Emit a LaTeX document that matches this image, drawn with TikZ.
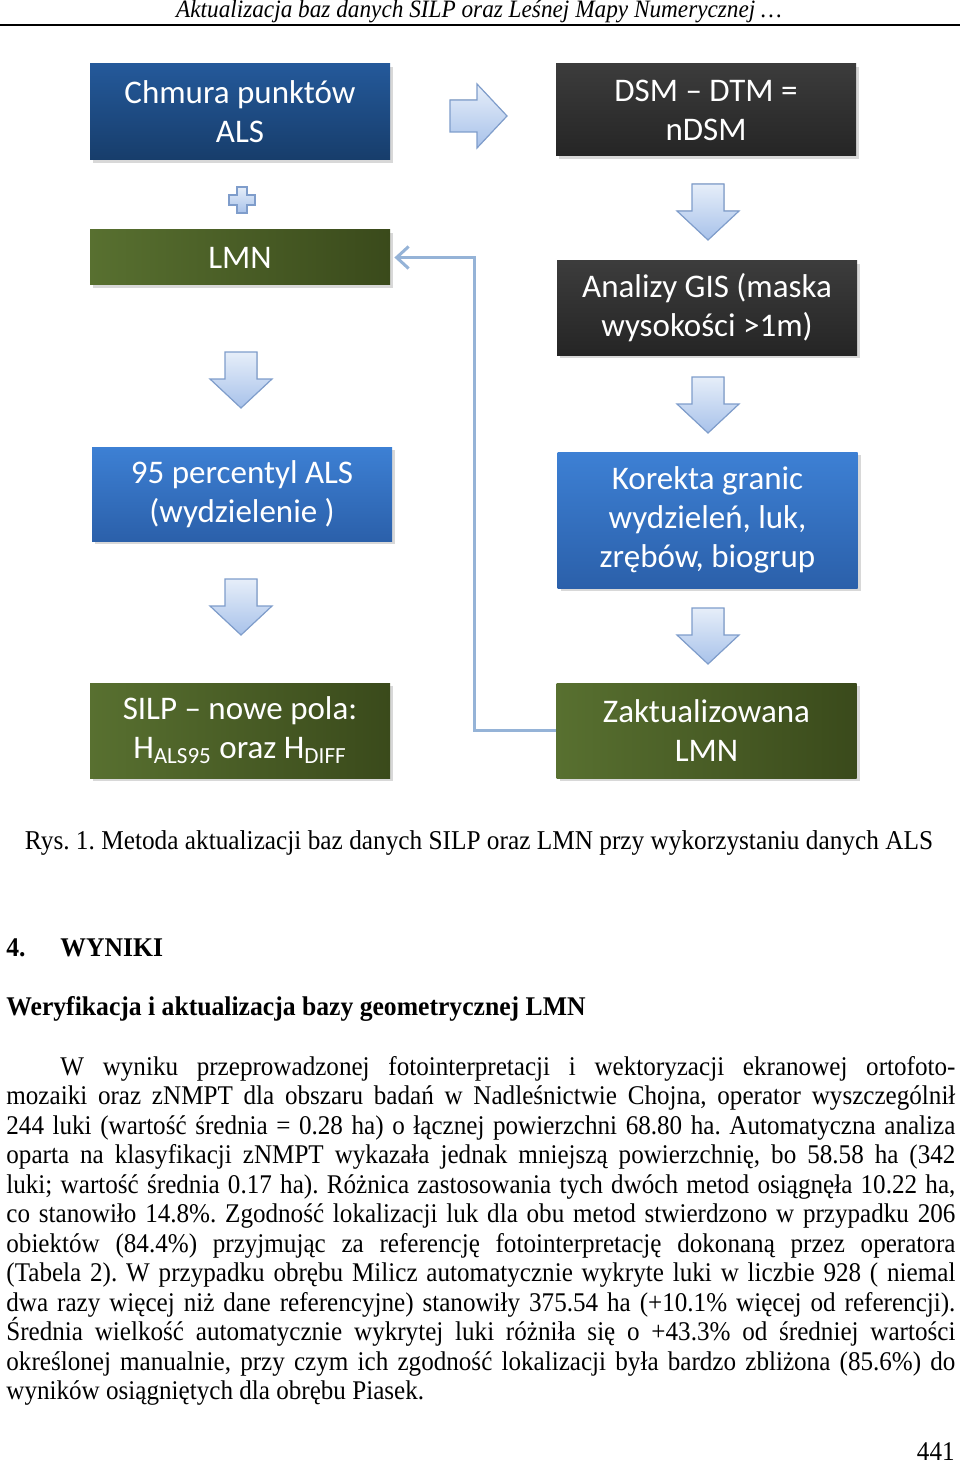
\documentclass[tikz,border=0pt]{standalone}
\usepackage{fontspec}
\setmainfont{Liberation Serif}[FakeStretch=0.93]
\newfontfamily\headfont{Liberation Serif}[FakeStretch=0.95]
\newfontfamily\boxfont{Carlito}
\usetikzlibrary{shadows,arrows.meta}
\frenchspacing

\definecolor{blueDark}{HTML}{24599A}
\definecolor{blueDarkB}{HTML}{173D6B}
\definecolor{blueMid}{HTML}{3D80D4}
\definecolor{blueMidB}{HTML}{2B60AA}
\definecolor{oliveL}{HTML}{587030}
\definecolor{oliveR}{HTML}{3A4A1B}
\definecolor{greyT}{HTML}{3C3C3C}
\definecolor{greyB}{HTML}{252525}
\definecolor{arrTop}{HTML}{E6EEF9}
\definecolor{arrBot}{HTML}{A8C2EA}
\definecolor{arrEdge}{HTML}{7F9DCB}
\definecolor{connLine}{HTML}{95B3D7}

\tikzset{
  box/.style={minimum width=150pt, inner sep=2pt, align=center, text=white,
    font=\boxfont\fontsize{16.5}{19.5}\selectfont,
    drop shadow={opacity=0.3, shadow xshift=1.5pt, shadow yshift=-1.5pt}},
  bluebox/.style={box, top color=blueDark, bottom color=blueDarkB},
  midbox/.style={box, top color=blueMid, bottom color=blueMidB},
  olivebox/.style={box, left color=oliveL, right color=oliveR},
  greybox/.style={box, top color=greyT, bottom color=greyB},
  blockarrow/.style={draw=arrEdge, line width=0.6pt, top color=arrTop, bottom color=arrBot},
  conn/.style={draw=connLine, line width=1.5pt},
  body/.style={font=\fontsize{13.5}{14.75}\selectfont, inner sep=0pt},
  heading/.style={body, anchor=base west, font=\headfont\bfseries\fontsize{13.5}{14.75}\selectfont}
}

\begin{document}
\begin{tikzpicture}[x=0.5pt, y=-0.5pt]
\useasboundingbox[fill=white] (0,0) rectangle (960,1465);

% page header
\node[body, font=\itshape\fontsize{12.5}{14}\selectfont] (head) at (479,12) {Aktualizacja baz danych SILP oraz Leśnej Mapy Numerycznej \dots};
\draw[line width=1pt] (0,25) -- (960,25);

% left column
\node[bluebox, minimum height=48pt] (chmura) at (240,112) {Chmura punktów\\ALS};
\node[olivebox, minimum height=27.5pt] (lmn) at (240,257.5) {LMN};
\node[midbox, minimum height=47pt] (perc) at (242,494) {95 percentyl ALS\\(wydzielenie )};
\node[olivebox, minimum height=47.5pt] (silp) at (240,730.5) {SILP – nowe pola:\\H\textsubscript{ALS95} oraz H\textsubscript{DIFF}};

% right column
\node[greybox, minimum height=46pt] (dsm) at (706,110) {DSM – DTM =\\nDSM};
\node[greybox, minimum height=47pt] (gis) at (707,308) {Analizy GIS (maska\\wysokości >1m)};
\node[midbox, minimum height=68pt] (korekta) at (707.5,520) {Korekta granic\\wydzieleń, luk,\\zrębów, biogrup};
\node[olivebox, minimum height=47.5pt] (zakt) at (706.5,730.5) {Zaktualizowana\\LMN};

% block arrows
\foreach \ax/\ay in {241/352, 241/579, 708/184, 708/377, 708/608}
  \filldraw[blockarrow] (\ax-16,\ay) -- ++(32,0) -- ++(0,27) -- ++(15,0)
    -- (\ax,\ay+56) -- (\ax-31,\ay+27) -- ++(15,0) -- cycle;
\filldraw[blockarrow] (450,100) -- (477,100) -- (477,84) -- (507,116)
  -- (477,148) -- (477,132) -- (450,132) -- cycle;
\filldraw[blockarrow] (237,187) -- (247,187) -- (247,195) -- (255,195)
  -- (255,205) -- (247,205) -- (247,213) -- (237,213) -- (237,205)
  -- (229,205) -- (229,195) -- (237,195) -- cycle;

% feedback line
\draw[conn, -{Straight Barb[length=6pt, width=11pt]}, shorten >=2pt]
  (zakt.west) -- ++(-82,0) |- (lmn.east);

% caption and text
\node[body, font=\fontsize{13.6}{15}\selectfont] (capt) at (479,843) {Rys. 1. Metoda aktualizacji baz danych SILP oraz LMN przy wykorzystaniu danych ALS};
\node[heading] (secnum) at (6,956) {4.};
\node[heading] (sectitle) at (60,956) {WYNIKI};
\node[heading] (subtitle) at (6,1015) {Weryfikacja i aktualizacja bazy geometrycznej LMN};
\node[body, anchor=base west, text width=474.5pt, align=justify] (para) at (6,1075) {%
\tolerance=10000\hyphenpenalty=10000
\hspace*{27pt}W wyniku przeprowadzonej fotointerpretacji i wektoryzacji ekranowej ortofoto-\linebreak
mozaiki oraz zNMPT dla obszaru badań w Nadleśnictwie Chojna, operator wyszczególnił\linebreak
244 luki (wartość średnia = 0.28 ha) o łącznej powierzchni 68.80 ha. Automatyczna analiza\linebreak
oparta na klasyfikacji zNMPT wykazała jednak mniejszą powierzchnię, bo 58.58 ha (342\linebreak
luki; wartość średnia 0.17 ha). Różnica zastosowania tych dwóch metod osiągnęła 10.22 ha,\linebreak
co stanowiło 14.8\%. Zgodność lokalizacji luk dla obu metod stwierdzono w przypadku 206\linebreak
obiektów (84.4\%) przyjmując za referencję fotointerpretację dokonaną przez operatora\linebreak
(Tabela 2). W przypadku obrębu Milicz automatycznie wykryte luki w liczbie 928 ( niemal\linebreak
dwa razy więcej niż dane referencyjne) stanowiły 375.54 ha (+10.1\% więcej od referencji).\linebreak
Średnia wielkość automatycznie wykrytej luki różniła się o +43.3\% od średniej wartości\linebreak
określonej manualnie, przy czym ich zgodność lokalizacji była bardzo zbliżona (85.6\%) do\linebreak
wyników osiągniętych dla obrębu Piasek.};
\node[body, anchor=base east] (pagenum) at (955,1460) {441};
\end{tikzpicture}
\end{document}
